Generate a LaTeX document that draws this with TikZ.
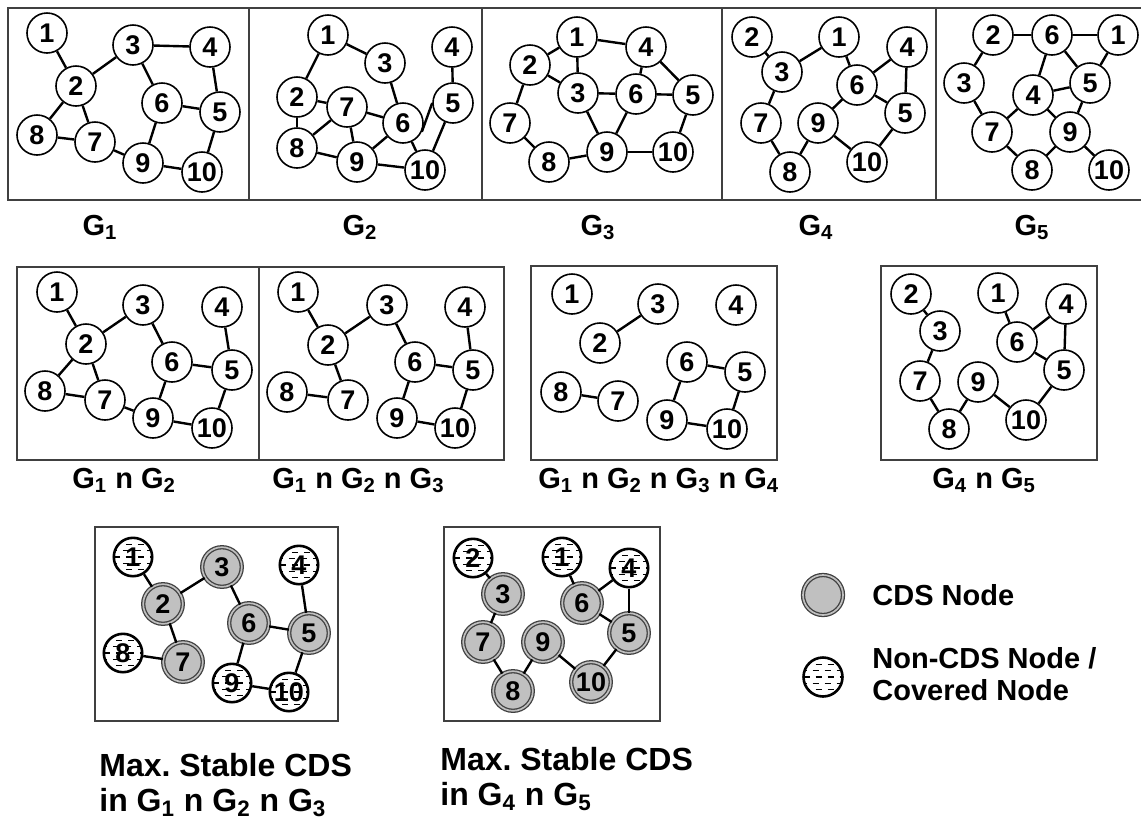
\documentclass[tikz,border=0pt]{standalone}
\usepackage{fontspec}
\setmainfont{Liberation Sans}
\definecolor{cdsgray}{RGB}{192,192,192}
\definecolor{framegray}{RGB}{64,64,64}
\tikzset{
  vtx/.style={circle, draw, line width=0.8pt, fill=white, minimum size=20pt, inner sep=0pt,
    font=\fontsize{13.5}{14}\selectfont\bfseries},
  cds/.style={vtx, draw=framegray, line width=0.65pt, double=cdsgray, double distance=0.85pt,
    fill=cdsgray, minimum size=19.8pt},
  noncds/.style={vtx, line width=1.3pt, minimum size=19.2pt,
    path picture={
      \foreach \k/\ph in {-2/0,-1/1.5,0/0,1/1.5,2/0}
        \draw[line width=0.6pt, dash pattern=on 3pt off 3pt, dash phase=\ph pt]
          ([yshift=\k*3.2pt]path picture bounding box.west) -- ([yshift=\k*3.2pt]path picture bounding box.east);
    }},
  lnk/.style={line width=1.2pt},
  panel/.style={draw=framegray, line width=0.85pt},
  lbl/.style={font=\fontsize{14.5}{16}\selectfont\bfseries, inner sep=0pt},
  biglbl/.style={font=\fontsize{16}{17.5}\selectfont\bfseries, inner sep=0pt, align=left, anchor=north west},
}
\begin{document}
\begin{tikzpicture}[x=0.5pt,y=-0.5pt]
\useasboundingbox (0,0) rectangle (1141,821);

% frames
\draw[panel] (8,8) rectangle (1146,200);
\draw[panel] (249,8) -- (249,200);
\draw[panel] (482,8) -- (482,200);
\draw[panel] (722,8) -- (722,200);
\draw[panel] (936,8) -- (936,200);
\draw[panel] (17,267) rectangle (504,460);
\draw[panel] (259,267) -- (259,460);
\draw[panel] (531,266) rectangle (777,460);
\draw[panel] (881,266) rectangle (1097,460);
\draw[panel] (95,527) rectangle (338,721);
\draw[panel] (444,527) rectangle (660,721);

% G1
\foreach \n/\x/\y in {1/47/33, 2/76/86, 3/133/45, 4/210/47, 5/220/112, 6/162/103, 7/95/142, 8/37/135, 9/143/163, 10/202/172}
  \node[vtx] (a\n) at (\x,\y) {\n};
\foreach \u/\v in {1/2, 2/3, 3/4, 3/6, 4/5, 2/8, 2/7, 8/7, 7/9, 6/9, 6/5, 9/10, 5/10}
  \draw[lnk] (a\u) -- (a\v);
\node[lbl, anchor=base] (la) at (100,235) {G\textsubscript{1}};

% G2
\foreach \n/\x/\y in {1/328/35, 2/297/97, 3/385/63, 4/452/47, 5/453/103, 6/403/123, 7/347/107, 8/297/148, 9/357/162, 10/425/170}
  \node[vtx] (b\n) at (\x,\y) {\n};
\foreach \u/\v in {1/2, 1/3, 3/6, 4/5, 2/8, 2/7, 7/8, 7/9, 7/6, 8/9, 9/6, 9/10, 6/10, 5/10}
  \draw[lnk] (b\u) -- (b\v);
\draw[lnk] (b6.-25) -- (b5.west);
\node[lbl, anchor=base] (lb) at (360,235) {G\textsubscript{2}};

% G3
\foreach \n/\x/\y in {1/577/37, 2/530/65, 3/578/93, 4/646/47, 5/693/95, 6/636/94, 7/510/123, 8/549/162, 9/607/152, 10/673/152}
  \node[vtx] (c\n) at (\x,\y) {\n};
\foreach \u/\v in {2/1, 1/4, 1/3, 2/3, 2/7, 3/6, 4/6, 4/5, 6/5, 3/9, 6/9, 7/8, 8/9, 9/10, 5/10}
  \draw[lnk] (c\u) -- (c\v);
\node[lbl, anchor=base] (lc) at (598,235) {G\textsubscript{3}};

% G4
\foreach \n/\x/\y in {1/839/37, 2/752/37, 3/782/72, 4/907/47, 5/905/113, 6/857/85, 7/761/123, 8/790/172, 9/818/123, 10/867/162}
  \node[vtx] (d\n) at (\x,\y) {\n};
\foreach \u/\v in {2/3, 3/1, 1/6, 6/4, 4/5, 6/5, 3/7, 7/8, 8/9, 9/6, 9/10, 10/5}
  \draw[lnk] (d\u) -- (d\v);
\node[lbl, anchor=base] (ld) at (816,235) {G\textsubscript{4}};

% G5
\foreach \n/\x/\y in {1/1118/35, 2/993/35, 3/964/83, 4/1033/95, 5/1090/83, 6/1052/35, 7/992/132, 8/1032/170, 9/1070/132, 10/1109/170}
  \node[vtx] (e\n) at (\x,\y) {\n};
\foreach \u/\v in {2/6, 6/1, 2/3, 6/4, 6/5, 1/5, 4/5, 3/7, 4/7, 4/9, 5/9, 9/8, 7/8, 9/10}
  \draw[lnk] (e\u) -- (e\v);
\node[lbl, anchor=base] (le) at (1032,235) {G\textsubscript{5}};

% G1 n G2
\foreach \n/\x/\y in {1/57/292, 2/86/344, 3/143/305, 4/222/307, 5/232/370, 6/172/362, 7/105/400, 8/45/391, 9/153/418, 10/212/428}
  \node[vtx] (f\n) at (\x,\y) {\n};
\foreach \u/\v in {1/2, 2/3, 3/6, 4/5, 6/5, 2/8, 2/7, 8/7, 7/9, 6/9, 9/10, 5/10}
  \draw[lnk] (f\u) -- (f\v);
\node[lbl, anchor=base west] (lf) at (72,488) {G\textsubscript{1} n G\textsubscript{2}};

% G1 n G2 n G3
\foreach \n/\x/\y in {1/298/292, 2/328/345, 3/387/305, 4/465/307, 5/473/370, 6/415/362, 7/348/400, 8/287/392, 9/397/418, 10/455/428}
  \node[vtx] (g\n) at (\x,\y) {\n};
\foreach \u/\v in {1/2, 2/3, 3/6, 4/5, 6/5, 2/7, 8/7, 6/9, 9/10, 5/10}
  \draw[lnk] (g\u) -- (g\v);
\node[lbl, anchor=base west] (lg) at (272,488) {G\textsubscript{1} n G\textsubscript{2} n G\textsubscript{3}};

% G1 n G2 n G3 n G4
\foreach \n/\x/\y in {1/572/294, 2/600/343, 3/658/304, 4/736/305, 5/745/372, 6/687/362, 7/618/401, 8/561/392, 9/667/420, 10/727/429}
  \node[vtx] (h\n) at (\x,\y) {\n};
\foreach \u/\v in {2/3, 8/7, 6/5, 6/9, 9/10, 5/10}
  \draw[lnk] (h\u) -- (h\v);
\node[lbl, anchor=base west] (lh) at (538,488) {G\textsubscript{1} n G\textsubscript{2} n G\textsubscript{3} n G\textsubscript{4}};

% G4 n G5
\foreach \n/\x/\y in {1/998/293, 2/911/294, 3/940/331, 4/1066/304, 5/1064/370, 6/1017/342, 7/920/381, 8/949/429, 9/978/382, 10/1026/420}
  \node[vtx] (k\n) at (\x,\y) {\n};
\foreach \u/\v in {2/3, 3/7, 7/8, 8/9, 9/10, 10/5, 1/6, 6/4, 4/5, 6/5}
  \draw[lnk] (k\u) -- (k\v);
\node[lbl, anchor=base west] (lk) at (932,488) {G\textsubscript{4} n G\textsubscript{5}};

% stable CDS in G1 n G2 n G3
\foreach \n/\x/\y/\s in {1/133/557/noncds, 2/163/604/cds, 3/222/567/cds, 4/299/565/noncds, 5/309/633/cds,
    6/249/623/cds, 7/183/662/cds, 8/123/653/noncds, 9/232/683/noncds, 10/289/692/noncds}
  \node[\s] (m\n) at (\x,\y) {\n};
\foreach \u/\v in {1/2, 2/3, 3/6, 4/5, 6/5, 8/7, 2/7, 6/9, 9/10, 5/10}
  \draw[lnk] (m\u) -- (m\v);
\node[biglbl] (lm) at (99,753) {Max.\ Stable CDS\\in G\textsubscript{1} n G\textsubscript{2} n G\textsubscript{3}};

% stable CDS in G4 n G5
\foreach \n/\x/\y/\s in {1/562/557/noncds, 2/473/558/noncds, 3/503/594/cds, 4/629/568/noncds, 5/629/633/cds,
    6/582/603/cds, 7/483/642/cds, 8/513/691/cds, 9/543/642/cds, 10/591/682/cds}
  \node[\s] (p\n) at (\x,\y) {\n};
\foreach \u/\v in {2/3, 3/7, 7/8, 8/9, 9/10, 10/5, 1/6, 6/4, 4/5, 6/5}
  \draw[lnk] (p\u) -- (p\v);
\node[biglbl] (lp) at (440,747) {Max.\ Stable CDS\\in G\textsubscript{4} n G\textsubscript{5}};

% legend
\node[cds, minimum size=20pt] (keycds) at (823,595) {};
\node[lbl, anchor=west] (keycdstxt) at (872,595) {CDS Node};
\node[noncds, minimum size=19.5pt] (keynon) at (823,677) {};
\node[lbl, anchor=north west, align=left] (keynontxt) at (872,647) {Non-CDS Node /\\Covered Node};

\end{tikzpicture}
\end{document}
